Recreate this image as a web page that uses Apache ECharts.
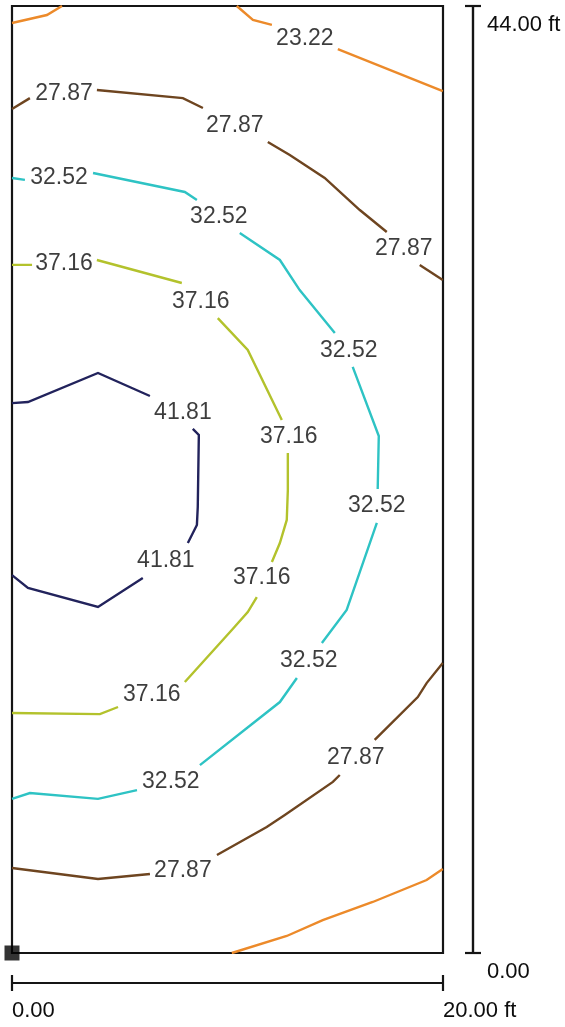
<!DOCTYPE html>
<html>
<head>
<meta charset="utf-8">
<script src="https://cdn.jsdelivr.net/npm/echarts@6/dist/echarts.min.js"></script>
<style>
html,body{margin:0;padding:0;background:#fff;}
#chart{width:565px;height:1027px;}
</style>
</head>
<body>
<div id="chart"></div>
<script>
// Domain (ft)
const xRange = [0, 20];
const yRange = [0, 44];
const xTickLabels = ['0.00', '20.00 ft'];
const yTickLabels = ['0.00', '44.00 ft'];

// Contour levels
const levels = ['23.22', '27.87', '32.52', '37.16', '41.81'];

// Contour segments, [x ft, y ft]; segments are broken where labels sit
const c2322 = [
  [[0, 43.21], [1.62, 43.58], [2.32, 44.0]],
  [[10.43, 44.0], [11.18, 43.35], [12.06, 43.12]],
  [[15.12, 42.0], [19.99, 40.05]],
  [[10.20, 0], [12.75, 0.79], [14.42, 1.53], [16.74, 2.37], [19.24, 3.39], [19.99, 3.90]]
];
const c2787 = [
  [[0, 39.21], [0.83, 39.72]],
  [[3.94, 40.10], [7.93, 39.72], [8.86, 39.26]],
  [[11.87, 37.68], [12.89, 37.08], [14.51, 36.01], [16.14, 34.52], [17.39, 33.50]],
  [[18.92, 31.97], [19.99, 31.27]],
  [[0, 3.95], [3.99, 3.44], [6.40, 3.67]],
  [[9.51, 4.55], [11.82, 5.85], [12.66, 6.41], [14.89, 7.95], [15.21, 8.27]],
  [[16.83, 9.90], [18.83, 11.89], [19.24, 12.54], [19.99, 13.47]]
];
const c3252 = [
  [[0, 36.01], [0.60, 35.92]],
  [[3.76, 36.24], [8.02, 35.36], [8.58, 34.99]],
  [[10.57, 33.45], [12.43, 32.20], [13.35, 30.80], [14.98, 28.81]],
  [[15.81, 27.23], [17.02, 24.02], [16.97, 21.56]],
  [[16.93, 19.98], [15.53, 15.94], [14.38, 14.40]],
  [[13.22, 12.78], [12.43, 11.66], [8.72, 8.73]],
  [[5.80, 7.57], [3.99, 7.16], [0.83, 7.43], [0, 7.16]]
];
const c3716 = [
  [[0, 31.97], [0.93, 31.97]],
  [[3.94, 32.20], [7.88, 31.13]],
  [[9.55, 29.50], [10.94, 28.02], [12.52, 24.76]],
  [[12.80, 23.23], [12.80, 21.51], [12.75, 20.12], [12.43, 19.05], [12.06, 18.17]],
  [[11.36, 16.54], [10.94, 15.84], [10.20, 15.01], [8.02, 12.59]],
  [[4.92, 11.43], [4.08, 11.10], [0, 11.15]]
];
const c4181 = [
  [[0, 25.55], [0.74, 25.60], [3.99, 26.95], [6.40, 25.88]],
  [[8.39, 24.35], [8.67, 24.07], [8.62, 20.72], [8.58, 19.89], [8.16, 19.05]],
  [[6.07, 17.42], [3.99, 16.08], [0.74, 16.96], [0, 17.56]]
];

// Label anchor points (text centres), [x ft, y ft]
const l2322 = [[13.59, 42.47]];
const l2787 = [[2.41, 39.91], [10.34, 38.42], [18.18, 32.71], [7.93, 3.81], [15.95, 9.06]];
const l3252 = [[2.18, 36.01], [9.60, 34.20], [15.63, 27.97], [16.93, 20.77], [13.77, 13.57], [7.37, 7.95]];
const l3716 = [[2.41, 32.01], [8.76, 30.25], [12.84, 23.97], [11.59, 17.42], [6.49, 11.99]];
const l4181 = [[7.93, 25.09], [7.14, 18.21]];

const origin = [[0, 0]];

const contours = [c2322, c2787, c3252, c3716, c4181];
const labelPts = [l2322, l2787, l3252, l3716, l4181];
const colors = ['#ec8a2a', '#6e4520', '#2ec3c4', '#b3c22c', '#22235c'];

const FONT = 'Liberation Sans, Arial, sans-serif';
const AX = '#151515';
const TXT = '#0d0d0d';

const series = [];
levels.forEach((lv, i) => {
  series.push({
    type: 'lines', coordinateSystem: 'cartesian2d', polyline: true, silent: true,
    data: contours[i].map(s => ({ coords: s })),
    lineStyle: { color: colors[i], width: 2.4, opacity: 1 },
    z: 3
  });
  series.push({
    type: 'scatter', name: lv, silent: true, symbolSize: 1,
    itemStyle: { color: 'rgba(0,0,0,0)' },
    data: labelPts[i],
    label: { show: true, position: 'inside', formatter: lv, fontSize: 23, color: TXT, fontFamily: FONT },
    z: 4
  });
});
series.push({
  type: 'scatter', silent: true, symbol: 'rect', symbolSize: [15, 15],
  itemStyle: { color: '#000' }, data: origin, z: 10, zlevel: 1, clip: false
});

const axisCommon = {
  type: 'value',
  axisLine: { show: true, onZero: false, lineStyle: { color: AX, width: 2.2 } },
  splitLine: { show: false },
  axisTick: { show: true, length: 8, lineStyle: { color: AX, width: 2.2 } }
};

const option = {
  animation: false,
  backgroundColor: '#fff',
  grid: { left: 12, right: 122, top: 6, bottom: 74, show: true, borderColor: AX, borderWidth: 2.2, backgroundColor: 'transparent' },
  xAxis: [
    Object.assign({}, axisCommon, {
      min: xRange[0], max: xRange[1], interval: 20, position: 'bottom', offset: 30,
      axisLabel: { show: true, margin: 17, align: 'left', fontSize: 22, color: TXT, fontFamily: FONT,
        showMinLabel: true, showMaxLabel: true,
        formatter: v => v === xRange[0] ? xTickLabels[0] : xTickLabels[1] }
    }),
    Object.assign({}, axisCommon, {
      min: xRange[0], max: xRange[1], interval: 20, position: 'bottom', offset: 30,
      axisTick: { show: true, inside: true, length: 8, lineStyle: { color: AX, width: 2.2 } },
      axisLabel: { show: false }
    })
  ],
  yAxis: [
    Object.assign({}, axisCommon, {
      min: yRange[0], max: yRange[1], interval: 44, position: 'right', offset: 30,
      axisLabel: { show: true, margin: 14, align: 'left', verticalAlign: 'top', padding: [8, 0, 0, 0], fontSize: 22, color: TXT, fontFamily: FONT,
        showMinLabel: true, showMaxLabel: true,
        formatter: v => v === yRange[0] ? yTickLabels[0] : yTickLabels[1] }
    }),
    Object.assign({}, axisCommon, {
      min: yRange[0], max: yRange[1], interval: 44, position: 'right', offset: 30,
      axisTick: { show: true, inside: true, length: 8, lineStyle: { color: AX, width: 2.2 } },
      axisLabel: { show: false }
    })
  ],
  series: series
};

const chart = echarts.init(document.getElementById('chart'), null, { renderer: 'canvas' });
chart.setOption(option);
</script>
</body>
</html>
